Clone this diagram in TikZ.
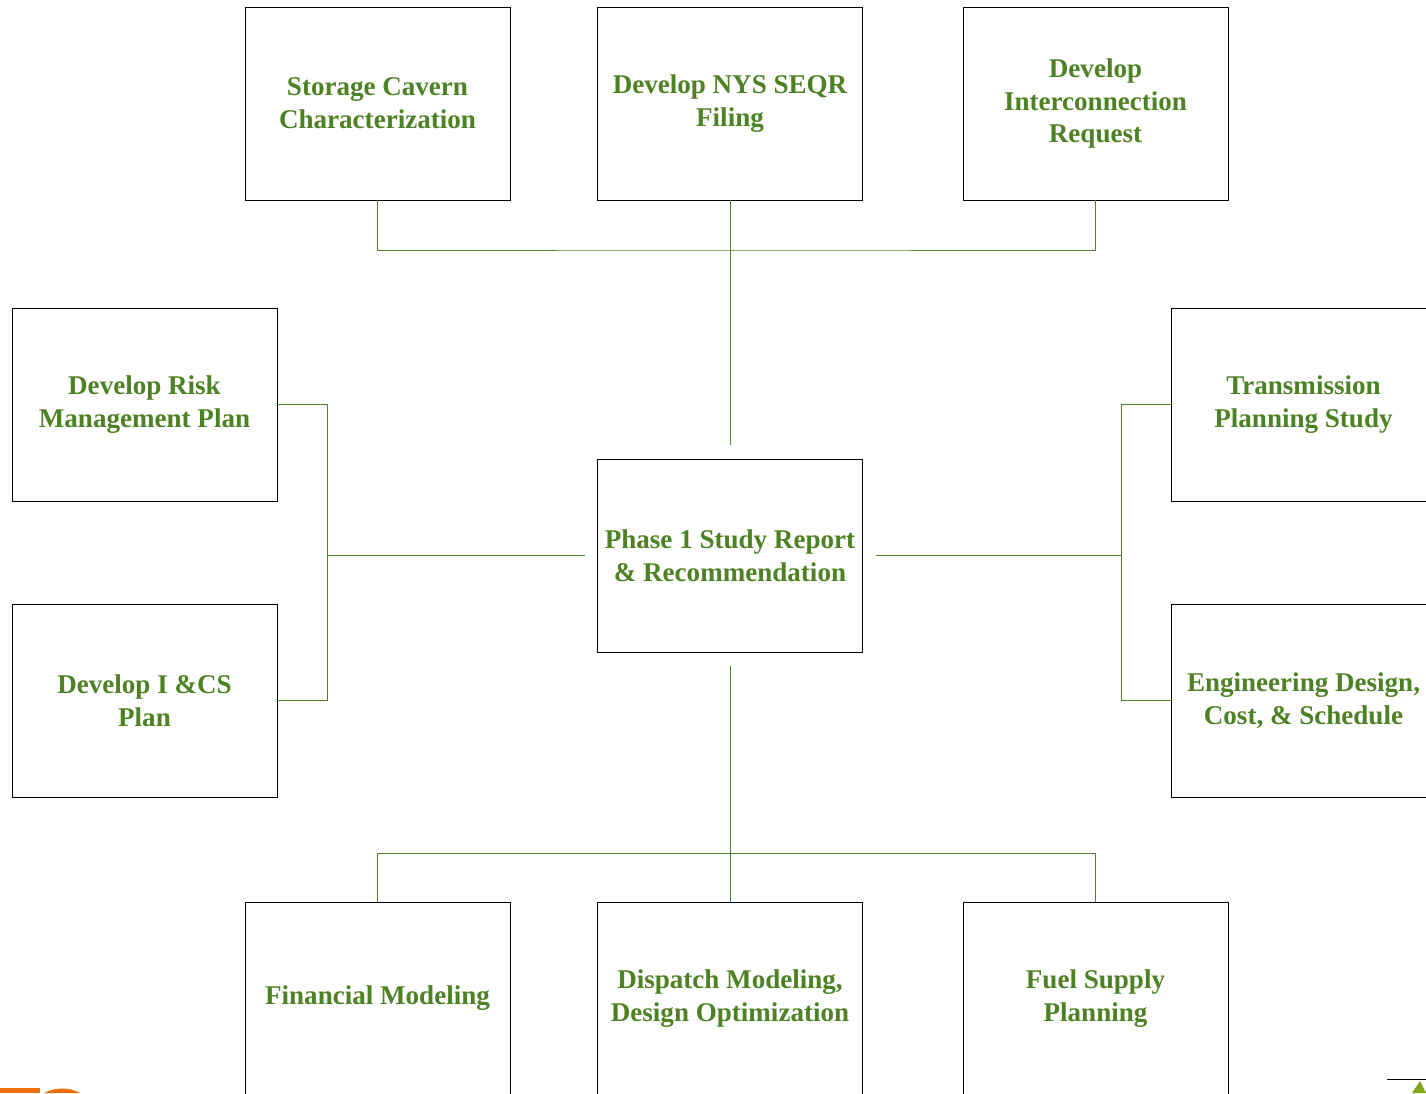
\documentclass[tikz,border=0pt]{standalone}
\usepackage{fontspec}
\setmainfont{Liberation Serif}
\usepackage{tikz}
\usetikzlibrary{calc}

\definecolor{leafgreen}{RGB}{78,128,36}
\definecolor{logoorange}{RGB}{236,112,12}

\tikzset{
  taskbox/.style={draw=black, line width=0.5pt, minimum width=5.3cm, minimum height=3.86cm,
    align=center, inner sep=2pt, text=leafgreen,
    font=\fontsize{15.4}{18.7}\selectfont\bfseries},
  link/.style={draw=leafgreen, line width=0.5pt}
}

\begin{document}
\begin{tikzpicture}[x=0.02cm,y=-0.02cm]
  \useasboundingbox (0,0) rectangle (1426,1093);
  % boxes
  \node[taskbox] (cavern) at (377.5,103.5) {Storage Cavern\\Characterization};
  \node[taskbox] (seqr) at (730,103.5) {Develop NYS SEQR\\Filing};
  \node[taskbox] (inter) at (1095.5,103.5) {Develop\\Interconnection\\Request};
  \node[taskbox] (risk) at (144.5,404.5) {Develop Risk\\Management Plan};
  \node[taskbox] (ics) at (144.5,700.5) {Develop I \&CS\\Plan};
  \node[taskbox] (report) at (730,555.5) {Phase 1 Study Report\\\& Recommendation};
  \node[taskbox] (trans) at (1303.5,404.5) {Transmission\\Planning Study};
  \node[taskbox] (eng) at (1303.5,700.5) {Engineering Design,\\Cost, \& Schedule};
  \node[taskbox] (fin) at (377.5,998.5) {Financial Modeling};
  \node[taskbox] (disp) at (730,998.5) {Dispatch Modeling,\\Design Optimization};
  \node[taskbox] (fuel) at (1095.5,998.5) {Fuel Supply\\Planning};

  % junction points
  \coordinate (topbus) at (730,250);
  \coordinate (topend) at (730,445);
  \coordinate (leftbus) at (327,555.5);
  \coordinate (leftend) at (585,555.5);
  \coordinate (rightbus) at (1121,555.5);
  \coordinate (rightend) at (876,555.5);
  \coordinate (botbus) at (730,853);
  \coordinate (botend) at (730,666);

  % top branch
  \draw[link] (cavern.south) |- (topbus) -| (inter.south);
  \draw[link] (seqr.south) -- (topend);
  % left branch
  \draw[link] (risk.east) -| (leftbus);
  \draw[link] (ics.east) -| (leftbus);
  \draw[link] (leftbus) -- (leftend);
  % right branch
  \draw[link] (trans.west) -| (rightbus);
  \draw[link] (eng.west) -| (rightbus);
  \draw[link] (rightbus) -- (rightend);
  % bottom branch
  \draw[link] (fin.north) |- (botbus) -| (fuel.north);
  \draw[link] (botend) -- (disp.north);

  % page marks
  \fill[logoorange] (0,1088) rectangle (40,1093);
  \fill[logoorange] (44,1093) .. controls (55,1087) and (70,1087) .. (80,1093) -- cycle;
  \draw[black, line width=0.5pt] (1387,1079) -- (1426,1079);
  \fill[leafgreen!70!yellow] (1412,1093) -- (1420,1081) -- (1426,1093) -- cycle;
\end{tikzpicture}
\end{document}
